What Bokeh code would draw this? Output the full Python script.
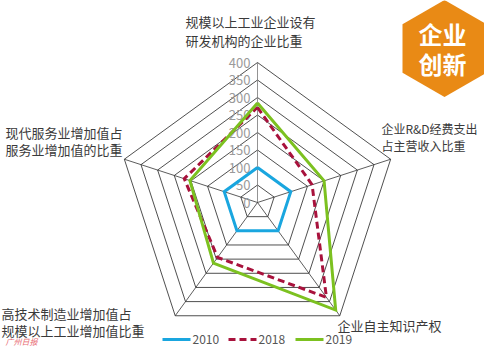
import numpy as np
from bokeh.plotting import figure
from bokeh.models import Range1d
from bokeh.embed import file_html
from bokeh.resources import INLINE
from bokeh.core.properties import value

# ---- data ----
axis_labels = [
    ["规模以上工业企业设有", "研发机构的企业比重"],
    ["企业R&D经费支出", "占主营收入比重"],
    ["企业自主知识产权"],
    ["高技术制造业增加值占", "规模以上工业增加值比重"],
    ["现代服务业增加值占", "服务业增加值的比重"],
]
years = ["2010", "2018", "2019"]
v2010 = [100, 100, 100, 100, 100]
v2018 = [272, 164, 335, 194, 220]
v2019 = [284, 200, 380, 214, 203]
ticks = [0, 50, 100, 150, 200, 250, 300, 350, 400]
colors = ["#1aa6df", "#a8123c", "#7cc120"]
dashes = ["solid", "7 4", "solid"]

FONT = "Noto Sans CJK SC"
W, H = 484, 346
S = 0.35          # px per unit
CX, CY = 257, 202  # centre in picture px


def X(px):
    return (px - CX) / S


def Y(py):
    return (CY - py) / S


p = figure(width=W, height=H, output_backend="svg", toolbar_location=None,
           x_range=Range1d(X(0), X(W)), y_range=Range1d(Y(H), Y(0)),
           min_border=0)
p.axis.visible = False
p.grid.visible = False
p.outline_line_color = None
p.background_fill_color = "white"

n = 5
ang = np.deg2rad(90 - 72 * np.arange(n))
cosA, sinA = np.cos(ang), np.sin(ang)

# grid rings
for t in ticks[1:]:
    xs = list(t * cosA) + [t * cosA[0]]
    ys = list(t * sinA) + [t * sinA[0]]
    p.line(xs, ys, line_color="#222222", line_width=0.8)
# spokes
rmax = ticks[-1]
for i in range(n):
    p.line([0, rmax * cosA[i]], [0, rmax * sinA[i]],
           line_color="#777777" if i == 0 else "#333333", line_width=0.8)

# tick labels
p.text(x=[X(250)] * len(ticks), y=ticks, text=[str(t) for t in ticks],
       text_font=value(FONT), text_font_size="13px", text_color="#9a9a9a",
       text_align="right", text_baseline="middle")

# series
for vals, c, d in zip([v2010, v2018, v2019], colors, dashes):
    v = np.array(vals, dtype=float)
    xs = list(v * cosA) + [v[0] * cosA[0]]
    ys = list(v * sinA) + [v[0] * sinA[0]]
    p.line(xs, ys, line_color=c, line_width=3, line_dash=d, line_join="miter")

# axis labels
label_pos = [
    (185, [21, 40], "13px"),
    (381, [128, 145], "12px"),
    (337, [325], "13px"),
    (1, [313, 330], "13px"),
    (5, [132, 149], "13px"),
]
for lines, (lx, lys, fs) in zip(axis_labels, label_pos):
    p.text(x=[X(lx)] * len(lines), y=[Y(yy) for yy in lys], text=lines,
           text_font=value(FONT), text_font_size=fs, text_color="#3a3a3a",
           text_align="left", text_baseline="middle")

# legend
lx0 = [162, 228, 295]
ly = 339
for i, (yr, c, d) in enumerate(zip(years, colors, dashes)):
    p.line([X(lx0[i]), X(lx0[i] + 28)], [Y(ly), Y(ly)], line_color=c,
           line_width=3, line_dash=d)
    p.text(x=[X(lx0[i] + 30)], y=[Y(ly)], text=[yr], text_font=value(FONT),
           text_font_size="12px", text_color="#555555",
           text_align="left", text_baseline="middle")

# badge hexagon
hx, hy, R = 444, 48, 48.5
ha = np.deg2rad([90, 30, -30, -90, -150, 150])
p.patch([X(hx) + R / S * np.cos(a) for a in ha],
        [Y(hy) + R / S * np.sin(a) for a in ha],
        fill_color="#e98a15", line_color=None)
p.text(x=[X(442), X(442)], y=[Y(33), Y(63)], text=["企业", "创新"],
       text_font=value(FONT), text_font_size="24px", text_font_style="bold",
       text_color="white", text_align="center", text_baseline="middle")

# watermark
p.text(x=[X(5)], y=[Y(341)], text=["广州日报"], text_font=value(FONT),
       text_font_size="8px", text_font_style="italic", text_color="#e86a72",
       text_align="left", text_baseline="middle")

open("out.html", "w").write(file_html(p, INLINE))
